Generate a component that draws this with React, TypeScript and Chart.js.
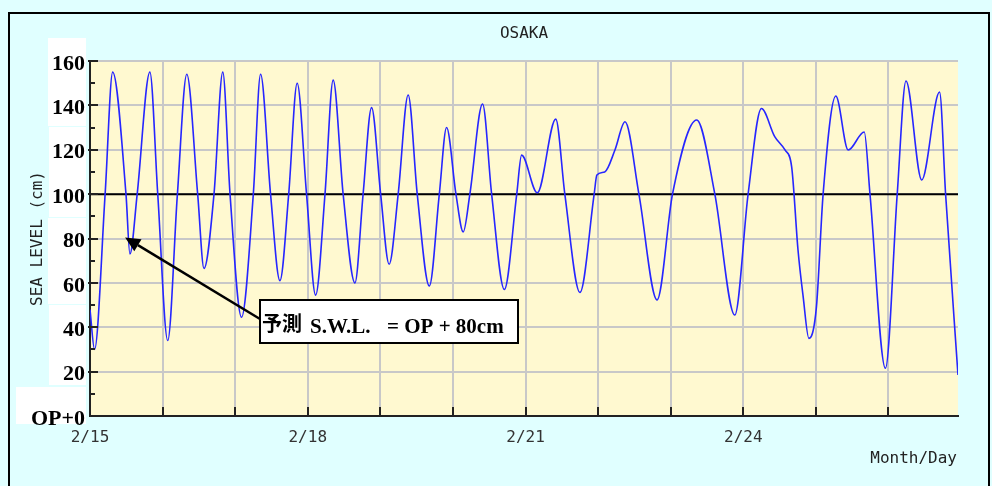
import React, { useEffect, useRef } from 'react';
import { Chart, registerables } from 'chart.js';

Chart.register(...registerables);

const chartTitle = 'OSAKA';
const yAxisTitle = 'SEA LEVEL (cm)';
const xAxisTitle = 'Month/Day';

const dayLabels = ['2/15', '2/16', '2/17', '2/18', '2/19', '2/20', '2/21', '2/22', '2/23', '2/24', '2/25', '2/26'];
const labelEveryDays = 3;
const hoursPerDay = 24;
const lastHour = 287;

const yTickValues = [0, 20, 40, 60, 80, 100, 120, 140, 160];
const yTickLabels = ['OP+0', '20', '40', '60', '80', '100', '120', '140', '160'];

// hours since 2/15 00:00
const hours = [
  0, 1.5, 5.0, 7.5, 11.9, 13.2, 15.6, 19.8, 22.4, 25.7,
  28.9, 32.0, 35.6, 37.7, 41.0, 43.9, 46.3, 50.1, 54.0, 56.4,
  59.7, 62.8, 65.7, 68.5, 71.6, 74.6, 77.7, 80.4, 83.7, 87.6,
  90.3, 93.1, 96.1, 98.9, 101.9, 105.2, 108.2, 112.2, 115.5, 117.9,
  121.0, 123.4, 125.6, 129.8, 132.8, 137.0, 141.1, 142.7, 147.9, 154.0,
  157.0, 162.0, 166.7, 167.6, 170.2, 173.6, 176.9, 181.5, 187.5, 192.6,
  200.6, 206.6, 213.2, 217.6, 222.0, 226.4, 229.8, 232.0, 234.1, 235.8,
  237.7, 240.2, 242.4, 246.6, 250.7, 256.0, 257.9, 263.0, 266.9, 269.8,
  275.0, 280.9, 282.9, 287,
];
// sea level (cm above OP)
const levels = [
  48, 30, 100, 155, 100, 73, 100, 155, 100, 34,
  100, 154, 100, 66.5, 100, 155, 100, 44.5, 100, 154,
  100, 61, 100, 150, 100, 54.5, 100, 151.4, 100, 60,
  100, 139, 100, 68.4, 100, 144.7, 100, 58.6, 100, 130,
  100, 83, 100, 140.6, 100, 57, 100, 117.6, 100.6, 133.8,
  100, 55.7, 100, 108.6, 110, 120, 132.6, 100, 52.3, 100,
  133.4, 100, 45.5, 100, 138.6, 125.9, 119.9, 112.3, 74.8, 53.8,
  35, 49.3, 100, 144.2, 119.9, 128, 100, 21.5, 100, 151,
  106.4, 146, 100, 18.5,
];

const referenceLevel = 100;
const noteJa = '予測';
const noteSwl = 'S.W.L.';
const noteEq = '= OP + 80cm';
const arrowTargetHour = 11.6;
const arrowTargetLevel = 80.5;

const MONO = '"DejaVu Sans Mono", monospace';
const SERIF = '"Liberation Serif", "Times New Roman", serif';

const decorPlugin = {
  id: 'decor',
  beforeDraw(chart: any) {
    const { ctx, chartArea: a, width, height } = chart;
    ctx.save();
    ctx.fillStyle = '#e0ffff';
    ctx.fillRect(0, 0, width, height);
    ctx.strokeStyle = '#000';
    ctx.lineWidth = 2;
    ctx.strokeRect(9, 13, 980, 500);
    ctx.fillStyle = '#fff9d0';
    ctx.fillRect(a.left, a.top, a.right - a.left, a.bottom - a.top);
    // white label patches
    ctx.fillStyle = '#ffffff';
    ctx.fillRect(48, 38, 38, 88);
    ctx.fillRect(49, 127, 37, 90);
    ctx.fillRect(48, 218, 38, 86);
    ctx.fillRect(49, 305, 37, 80);
    ctx.fillRect(16, 387, 70, 37);
    ctx.restore();
  },
  afterDraw(chart: any) {
    const { ctx, chartArea: a } = chart;
    const xs = chart.scales.x;
    const ys = chart.scales.y;
    ctx.save();
    // y minor / major ticks
    ctx.strokeStyle = '#222';
    ctx.lineWidth = 2;
    for (let v = 10; v <= 160; v += 10) {
      const y = Math.round(ys.getPixelForValue(v));
      ctx.beginPath();
      if (v % 20 === 0) {
        ctx.moveTo(a.left - 2, y);
        ctx.lineTo(a.left + 8, y);
      } else {
        ctx.moveTo(a.left, y);
        ctx.lineTo(a.left + 5, y);
      }
      ctx.stroke();
    }
    // x day ticks
    for (let i = 1; i < dayLabels.length; i++) {
      const x = Math.round(xs.getPixelForValue(i * hoursPerDay));
      ctx.beginPath();
      ctx.moveTo(x, a.bottom);
      ctx.lineTo(x, a.bottom - 9);
      ctx.stroke();
    }
    // titles
    ctx.fillStyle = '#222';
    ctx.font = `16px ${MONO}`;
    ctx.textAlign = 'center';
    ctx.textBaseline = 'alphabetic';
    ctx.fillText(chartTitle, (a.left + a.right) / 2, 38);
    ctx.textAlign = 'right';
    ctx.fillText(xAxisTitle, 957, 463);
    ctx.save();
    ctx.translate(42, (a.top + a.bottom) / 2);
    ctx.rotate(-Math.PI / 2);
    ctx.textAlign = 'center';
    ctx.fillText(yAxisTitle, 0, 0);
    ctx.restore();

    // annotation arrow
    const tx = xs.getPixelForValue(arrowTargetHour);
    const ty = ys.getPixelForValue(arrowTargetLevel);
    const sx = 260;
    const sy = 319;
    const ang = Math.atan2(ty - sy, tx - sx);
    const headLen = 15;
    const headW = 7;
    const bx = tx - headLen * Math.cos(ang);
    const by = ty - headLen * Math.sin(ang);
    ctx.strokeStyle = '#000';
    ctx.lineWidth = 2.5;
    ctx.beginPath();
    ctx.moveTo(sx, sy);
    ctx.lineTo(bx, by);
    ctx.stroke();
    ctx.fillStyle = '#000';
    ctx.beginPath();
    ctx.moveTo(tx, ty);
    ctx.lineTo(bx + headW * Math.sin(ang), by - headW * Math.cos(ang));
    ctx.lineTo(bx - headW * Math.sin(ang), by + headW * Math.cos(ang));
    ctx.closePath();
    ctx.fill();

    // annotation box
    ctx.fillStyle = '#ffffff';
    ctx.fillRect(260, 300, 258, 43);
    ctx.strokeStyle = '#000';
    ctx.lineWidth = 2;
    ctx.strokeRect(260, 300, 258, 43);
    ctx.fillStyle = '#000';
    ctx.textAlign = 'left';
    ctx.textBaseline = 'alphabetic';
    ctx.font = `bold 20px "Noto Sans CJK JP", sans-serif`;
    ctx.fillText(noteJa, 262, 331);
    ctx.font = `bold 21px ${SERIF}`;
    ctx.fillText(noteSwl, 310, 333);
    ctx.fillText(noteEq, 387, 333);
    ctx.restore();
  },
};

export default function App() {
  const ref = useRef<HTMLCanvasElement | null>(null);
  useEffect(() => {
    document.body.style.margin = '0';
    const canvas = ref.current;
    if (!canvas) return;
    const chart = new Chart(canvas, {
      type: 'line',
      data: {
        datasets: [
          {
            data: hours.map((h, i) => ({ x: h, y: levels[i] })),
            borderColor: '#2626ff',
            borderWidth: 1.6,
            pointRadius: 0,
            cubicInterpolationMode: 'monotone',
            fill: false,
          },
          {
            data: [
              { x: 0, y: referenceLevel },
              { x: lastHour, y: referenceLevel },
            ],
            borderColor: '#000',
            borderWidth: 2,
            pointRadius: 0,
            fill: false,
          },
        ],
      },
      options: {
        animation: false,
        responsive: false,
        maintainAspectRatio: false,
        layout: { padding: { left: 0, top: 61, right: 34, bottom: 0 } },
        plugins: { legend: { display: false }, tooltip: { enabled: false }, title: { display: false } },
        scales: {
          x: {
            type: 'linear',
            min: 0,
            max: lastHour,
            afterBuildTicks: (s: any) => {
              s.ticks = dayLabels.map((_, i) => ({ value: i * hoursPerDay }));
            },
            afterFit: (s: any) => {
              s.height = 70;
            },
            ticks: {
              autoSkip: false,
              maxRotation: 0,
              padding: 12,
              color: '#333',
              font: { family: MONO, size: 16 },
              callback: (v: any) => {
                const i = Math.round(Number(v) / hoursPerDay);
                return i % labelEveryDays === 0 ? dayLabels[i] : '';
              },
            },
            grid: { color: '#c8c8c8', lineWidth: 2, drawTicks: false },
            border: { color: '#222', width: 2 },
          },
          y: {
            min: 0,
            max: 160,
            afterBuildTicks: (s: any) => {
              s.ticks = yTickValues.map((v) => ({ value: v }));
            },
            afterFit: (s: any) => {
              s.width = 90;
            },
            ticks: {
              padding: 5,
              labelOffset: 3,
              color: '#000',
              font: { family: SERIF, size: 22, weight: 'bold' },
              callback: (v: any) => {
                const i = yTickValues.indexOf(Number(v));
                return i >= 0 ? yTickLabels[i] : '';
              },
            },
            grid: { color: '#c8c8c8', lineWidth: 2, drawTicks: false },
            border: { color: '#222', width: 2 },
          },
        },
      },
      plugins: [decorPlugin],
    });
    return () => chart.destroy();
  }, []);
  return (
    <div style={{ position: 'relative', width: 992, height: 486 }}>
      <canvas ref={ref} width={992} height={486} style={{ display: 'block', width: 992, height: 486 }} />
    </div>
  );
}
